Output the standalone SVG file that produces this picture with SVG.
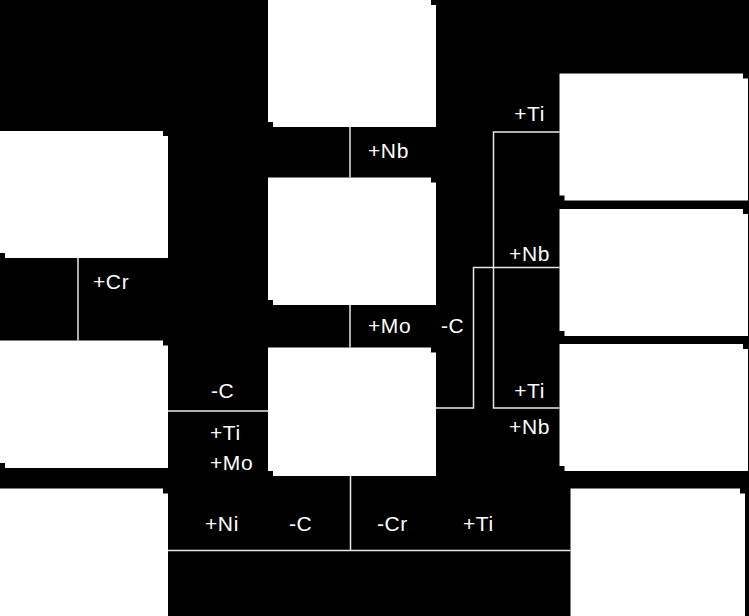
<svg xmlns="http://www.w3.org/2000/svg" width="749" height="616" viewBox="0 0 749 616">
<style>
.bg{fill:#000}
.box rect{fill:#fff}
.ln{stroke:#e8e8e8;stroke-width:1.5;fill:none}
.lb{font-family:"Liberation Sans",Arial,sans-serif;font-size:21px;letter-spacing:0.6px;fill:#fff}
.r{text-anchor:end}
</style>
<rect class="bg" x="0" y="0" width="749" height="616"/>
<g id="n_top" class="box"><rect x="268" y="0" width="163" height="122"/><rect x="273" y="5" width="163" height="122"/></g>
<g id="n_mid" class="box"><rect x="268" y="177.5" width="163" height="122.5"/><rect x="273" y="182.5" width="163" height="122.5"/></g>
<g id="n_center" class="box"><rect x="268" y="347.5" width="163" height="123.5"/><rect x="273" y="352.5" width="163" height="123.5"/></g>
<g id="n_left1" class="box"><rect x="0" y="131" width="163" height="122"/><rect x="5" y="136" width="163" height="122"/></g>
<g id="n_left2" class="box"><rect x="0" y="340.5" width="163" height="122.5"/><rect x="5" y="345.5" width="163" height="122.5"/></g>
<g id="n_left3" class="box"><rect x="0" y="488.5" width="163" height="135"/><rect x="5" y="493.5" width="163" height="135"/></g>
<g id="n_right1" class="box"><rect x="559.5" y="73.5" width="183.5" height="122"/><rect x="564.5" y="78.5" width="183.5" height="122"/></g>
<g id="n_right2" class="box"><rect x="559.5" y="209" width="183.5" height="122"/><rect x="564.5" y="214" width="183.5" height="122"/></g>
<g id="n_right3" class="box"><rect x="559.5" y="344" width="183.5" height="122"/><rect x="564.5" y="349" width="183.5" height="122"/></g>
<g id="n_right4" class="box"><rect x="570.5" y="488.5" width="169.5" height="135"/><rect x="575.5" y="493.5" width="169.5" height="135"/></g>
<g id="connectors">
<line class="ln" x1="350" y1="127" x2="350" y2="177.5"/>
<line class="ln" x1="350" y1="305" x2="350" y2="347.5"/>
<line class="ln" x1="78" y1="258" x2="78" y2="340.5"/>
<line class="ln" x1="168" y1="411" x2="268" y2="411"/>
<line class="ln" x1="350.5" y1="476" x2="350.5" y2="550.5"/>
<line class="ln" x1="168" y1="550.5" x2="570.5" y2="550.5"/>
<polyline class="ln" points="436,408 473.5,408 473.5,267.5 559.5,267.5"/>
<polyline class="ln" points="559.5,132 493.5,132 493.5,408 559.5,408"/>
</g>
<g id="labels">
<text class="lb" x="368" y="158">+Nb</text>
<text class="lb" x="368" y="333">+Mo</text>
<text class="lb" x="441" y="333">-C</text>
<text class="lb" x="93" y="289">+Cr</text>
<text class="lb" x="211" y="398">-C</text>
<text class="lb" x="210" y="440">+Ti</text>
<text class="lb" x="210" y="470">+Mo</text>
<text class="lb r" x="545" y="121">+Ti</text>
<text class="lb r" x="550" y="261">+Nb</text>
<text class="lb r" x="545" y="398">+Ti</text>
<text class="lb r" x="550" y="434">+Nb</text>
<text class="lb" x="205" y="531">+Ni</text>
<text class="lb" x="289" y="531">-C</text>
<text class="lb" x="377" y="531">-Cr</text>
<text class="lb" x="463" y="531">+Ti</text>
</g>
</svg>
